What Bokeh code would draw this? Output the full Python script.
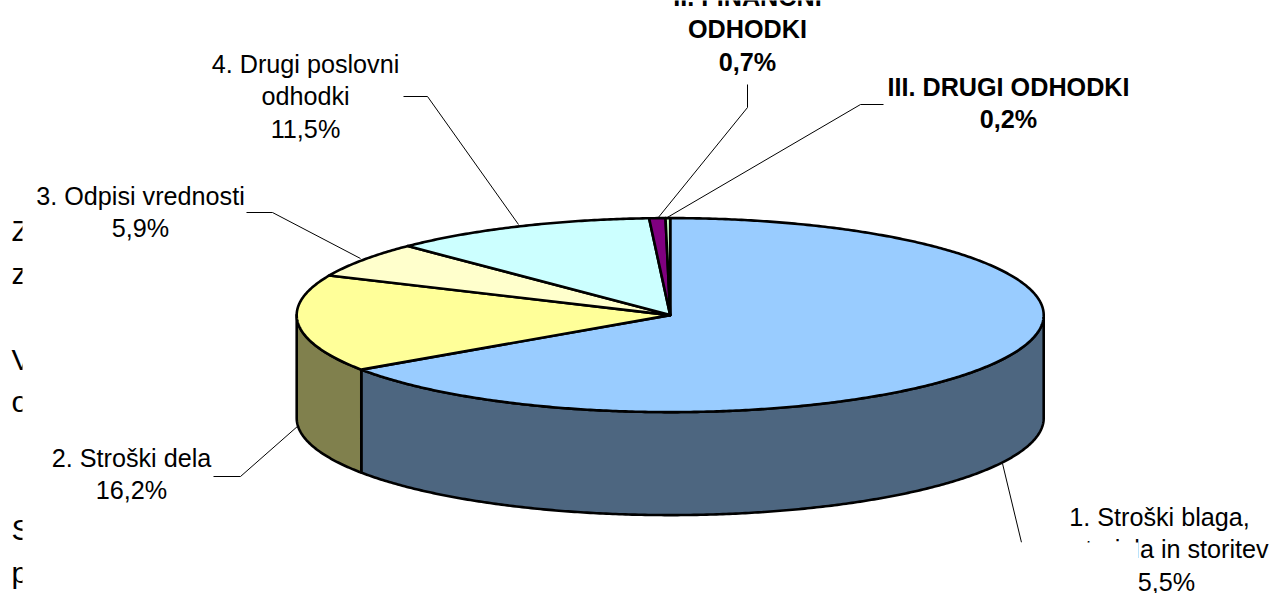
import numpy as np
from bokeh.plotting import figure
from bokeh.models import Range1d
from bokeh.core.properties import value
from bokeh.embed import file_html
from bokeh.resources import INLINE

# ---- data ----
names = ["1. Stroški blaga,\nmateriala in storitev", "2. Stroški dela", "3. Odpisi vrednosti",
         "4. Drugi poslovni\nodhodki", "II. FINANČNI\nODHODKI", "III. DRUGI ODHODKI"]
shares = [65.5, 16.2, 5.9, 11.5, 0.7, 0.2]
top_colors = ["#99CCFF", "#FFFF99", "#FFFFCC", "#CCFFFF", "#800080", "#CCFFCC"]
side_colors = ["#4D6680", "#80804D", "#80806A", "#6A8080", "#400040", "#6A806A"]
bold_flags = [False, False, False, False, True, True]
behind_letters = ["Z", "z", "V", "o", "S", "p"]

# ---- layout (pixels of the picture) ----
W, H = 1273, 593
CX, CY, RX, RY, DEPTH = 669.7, 314.6, 373.5, 97.0, 103.0
FONT = "Liberation Sans"
SIZE = "25.2px"
LEAD = 32.5
label_xy = [(1159, 516), (131, 457), (140, 195), (305, 63), (747, -4), (1008, 86)]
leaders = [
    ([1021, 1002], [542, 463]),
    ([213, 240, 298], [476, 476, 425]),
    ([246, 272, 360], [212, 212, 258]),
    ([403, 427, 518], [96, 96, 224]),
    ([747, 747, 657], [84, 107, 218]),
    ([883, 860, 665], [104, 104, 218]),
]
behind_xy = [(11, 230), (11, 273), (11, 359), (11, 401), (11, 529), (11, 572)]


def arc(a0, a1, dy=0.0):
    t = np.radians(np.linspace(a0, a1, max(2, int(abs(a1 - a0) * 2) + 2)))
    return CX + RX * np.sin(t), CY + dy - RY * np.cos(t)


p = figure(width=W, height=H, x_range=Range1d(0, W), y_range=Range1d(H, 0),
           output_backend="svg", toolbar_location=None, min_border=0,
           background_fill_color="white", border_fill_color="white")
p.axis.visible = False
p.grid.visible = False
p.outline_line_color = None

# page text lying behind the chart, cut off by the chart's white area
p.text([x for x, _ in behind_xy], [y for _, y in behind_xy], text=behind_letters,
       text_font=value(FONT), text_font_size=value("30px"), text_color="black",
       text_align="left", text_baseline="alphabetic")
p.quad(left=22, right=W, top=0, bottom=H, fill_color="white", line_color=None)

edges = np.concatenate([[0], np.cumsum(shares)]) / np.sum(shares) * 360.0

# front walls
for a0, a1, col in zip(edges[:-1], edges[1:], side_colors):
    s0, s1 = max(a0, 90.0), min(a1, 270.0)
    if s1 <= s0:
        continue
    xt, yt = arc(s0, s1)
    xb, yb = arc(s1, s0, DEPTH)
    p.patch(np.r_[xt, xb], np.r_[yt, yb], fill_color=col, line_color="black",
            line_width=2.6, line_join="round")

# top face
for a0, a1, col in zip(edges[:-1], edges[1:], top_colors):
    xt, yt = arc(a0, a1)
    p.patch(np.r_[CX, xt], np.r_[CY, yt], fill_color=col, line_color="black",
            line_width=2.6, line_join="round")

# leader lines
for xs, ys in leaders:
    p.line(xs, ys, line_color="black", line_width=1)

# labels
for name, share, (lx, ly), bold in zip(names, shares, label_xy, bold_flags):
    lines = name.split("\n") + [f"{share:.1f}%".replace(".", ",")]
    for i, line in enumerate(lines):
        p.text([lx], [ly + i * LEAD], text=[line], text_font=value(FONT),
               text_font_size=value(SIZE), text_color="black", text_align="center",
               text_baseline="middle", text_font_style="bold" if bold else "normal")

# white piece of the page that covers part of the first label
p.quad(left=1019, right=1138, top=542, bottom=H, fill_color="white", line_color=None)

open("out.html", "w").write(file_html(p, INLINE))
